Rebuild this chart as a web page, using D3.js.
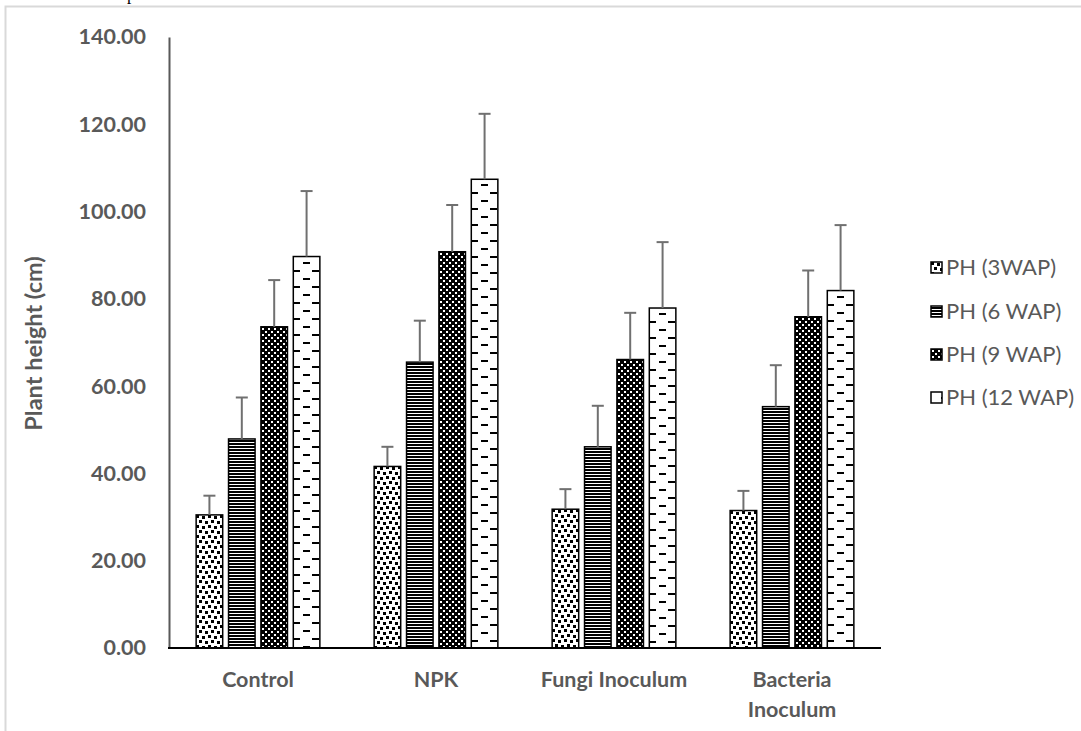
<!DOCTYPE html>
<html>
<head>
<meta charset="utf-8">
<script src="https://cdn.jsdelivr.net/npm/d3@7"></script>
<style>
  html, body { margin: 0; padding: 0; background: #fff; }
  svg { display: block; }
</style>
</head>
<body>
<svg id="chart" width="1081" height="731"></svg>
<script>
// ---- data ----
const categories = ["Control", "NPK", "Fungi Inoculum", "Bacteria Inoculum"];
const seriesNames = ["PH (3WAP)", "PH (6 WAP)", "PH (9 WAP)", "PH (12 WAP)"];
const ph3 = [30.5, 41.6, 31.8, 31.5];
const ph6 = [47.9, 65.5, 46.1, 55.3];
const ph9 = [73.6, 90.8, 66.1, 75.9];
const ph12 = [89.7, 107.4, 77.9, 81.9];
const err3 = [4.4, 4.5, 4.6, 4.5];
const err6 = [9.5, 9.5, 9.4, 9.5];
const err9 = [10.7, 10.7, 10.7, 10.6];
const err12 = [15.0, 15.0, 15.1, 15.0];
const yTicks = [0, 20, 40, 60, 80, 100, 120, 140];
const yTitle = "Plant height (cm)";

const values = [ph3, ph6, ph9, ph12];
const errors = [err3, err6, err9, err12];
const patternKinds = ["confetti", "hlines", "dots", "dashes"];

// ---- layout ----
const svg = d3.select("#chart");
const plot = { left: 169, right: 881, top: 37, bottom: 648 };
const gray = "#595959";
const font = "Lato, 'Open Sans', sans-serif";

// outer chart border (partly outside the window)
svg.append("rect").attr("x", 5.5).attr("y", 6.5).attr("width", 1200).attr("height", 900)
  .attr("fill", "none").attr("stroke", "#d9d9d9").attr("stroke-width", 2);

// clipped caption text above the chart
svg.append("text").attr("x", 127).attr("y", 0).attr("font-family", "'Liberation Serif', serif")
  .attr("font-size", 17).attr("fill", "#000").text("p");

const x0 = d3.scaleBand().domain(categories).range([plot.left, plot.right])
  .paddingInner(0.305).paddingOuter(0.1525);
const x1 = d3.scaleBand().domain(seriesNames).range([0, x0.bandwidth()])
  .paddingInner(0.18).paddingOuter(0);
const y = d3.scaleLinear().domain([0, 140]).range([plot.bottom, plot.top]);

const defs = svg.append("defs");

function makePattern(id, kind, ox, oy) {
  ox = Math.round(ox); oy = Math.round(oy);
  let p;
  const sq = (a, b, w, h, c) => p.append("rect").attr("x", a).attr("y", b).attr("width", w)
    .attr("height", h).attr("fill", c).attr("shape-rendering", "crispEdges");
  if (kind === "confetti") {
    p = defs.append("pattern").attr("id", id).attr("patternUnits", "userSpaceOnUse")
      .attr("x", ox).attr("y", oy).attr("width", 12).attr("height", 10);
    sq(0, 0, 12, 10, "#fff");
    [[0,0],[6,1],[3,5],[9,6]].forEach(([a,b]) => sq(a, b, 3, 3, "#000"));
  } else if (kind === "hlines") {
    p = defs.append("pattern").attr("id", id).attr("patternUnits", "userSpaceOnUse")
      .attr("x", ox).attr("y", oy).attr("width", 8).attr("height", 3);
    sq(0, 0, 8, 3, "#fff");
    sq(0, 1, 8, 2, "#000");
  } else if (kind === "dots") {
    p = defs.append("pattern").attr("id", id).attr("patternUnits", "userSpaceOnUse")
      .attr("x", ox).attr("y", oy).attr("width", 6).attr("height", 6);
    sq(0, 0, 6, 6, "#000");
    sq(1, 1, 2, 2, "#fff");
    sq(4, 4, 2, 2, "#fff");
  } else {
    p = defs.append("pattern").attr("id", id).attr("patternUnits", "userSpaceOnUse")
      .attr("x", ox).attr("y", oy).attr("width", 19).attr("height", 16);
    sq(0, 0, 19, 16, "#fff");
    sq(0, 13, 7, 2, "#000");
    sq(10, 5, 7, 2, "#000");
  }
}

// ---- bars ----
const bars = [];
values.forEach((arr, si) => {
  arr.forEach((v, ci) => {
    bars.push({ si, ci, v, e: errors[si][ci], cat: categories[ci], ser: seriesNames[si] });
  });
});

bars.forEach((d, i) => {
  const bx = x0(d.cat) + x1(d.ser);
  makePattern("pat" + i, patternKinds[d.si], bx, y(d.v));
});

const gBars = svg.append("g");
gBars.selectAll("rect").data(bars).join("rect")
  .attr("x", d => x0(d.cat) + x1(d.ser))
  .attr("y", d => y(d.v))
  .attr("width", x1.bandwidth())
  .attr("height", d => y(0) - y(d.v))
  .attr("fill", (d, i) => `url(#pat${i})`)
  .attr("stroke", "#000").attr("stroke-width", 1.5);

// error bars (plus direction)
const gErr = svg.append("g").attr("stroke", "#707070").attr("stroke-width", 2);
bars.forEach(d => {
  const cx = x0(d.cat) + x1(d.ser) + x1.bandwidth() / 2;
  gErr.append("line").attr("x1", cx).attr("x2", cx).attr("y1", y(d.v)).attr("y2", y(d.v + d.e));
  gErr.append("line").attr("x1", cx - 6).attr("x2", cx + 6).attr("y1", y(d.v + d.e)).attr("y2", y(d.v + d.e));
});

// ---- axes ----
const yAxis = svg.append("g").attr("transform", `translate(${plot.left},0)`)
  .call(d3.axisLeft(y).tickValues(yTicks).tickSize(0).tickPadding(23).tickFormat(d => d.toFixed(2)));
yAxis.select(".domain").attr("stroke", gray).attr("stroke-width", 2);
yAxis.selectAll("text").attr("font-family", font).attr("font-weight", "bold")
  .attr("font-size", 21.5).attr("fill", gray);

svg.append("line").attr("x1", plot.left - 1).attr("x2", plot.right)
  .attr("y1", plot.bottom).attr("y2", plot.bottom).attr("stroke", "#000").attr("stroke-width", 2);

// category labels (wrapped like Excel)
const catLines = { "Control": ["Control"], "NPK": ["NPK"], "Fungi Inoculum": ["Fungi Inoculum"],
  "Bacteria Inoculum": ["Bacteria", "Inoculum"] };
categories.forEach(c => {
  const t = svg.append("text").attr("x", x0(c) + x0.bandwidth() / 2).attr("y", 687)
    .attr("text-anchor", "middle").attr("font-family", font).attr("font-weight", "bold")
    .attr("font-size", 21.5).attr("fill", gray);
  catLines[c].forEach((ln, k) => {
    t.append("tspan").attr("x", x0(c) + x0.bandwidth() / 2).attr("dy", k === 0 ? 0 : 30).text(ln);
  });
});

// y title
svg.append("text").attr("transform", `translate(42,${(plot.top + plot.bottom) / 2 + 1}) rotate(-90)`)
  .attr("text-anchor", "middle").attr("font-family", font).attr("font-weight", "bold")
  .attr("font-size", 23.5).attr("fill", gray).text(yTitle);

// ---- legend ----
const legendY = [268, 312, 355, 398];
seriesNames.forEach((s, i) => {
  makePattern("leg" + i, patternKinds[i], 931, legendY[i] - 6);
  svg.append("rect").attr("x", 931).attr("y", legendY[i] - 6).attr("width", 11).attr("height", 11)
    .attr("fill", `url(#leg${i})`).attr("stroke", "#000").attr("stroke-width", 1.5);
  svg.append("text").attr("x", 946).attr("y", legendY[i] + 7).attr("font-family", font)
    .attr("font-size", 22).attr("fill", gray).text(s);
});
</script>
</body>
</html>
